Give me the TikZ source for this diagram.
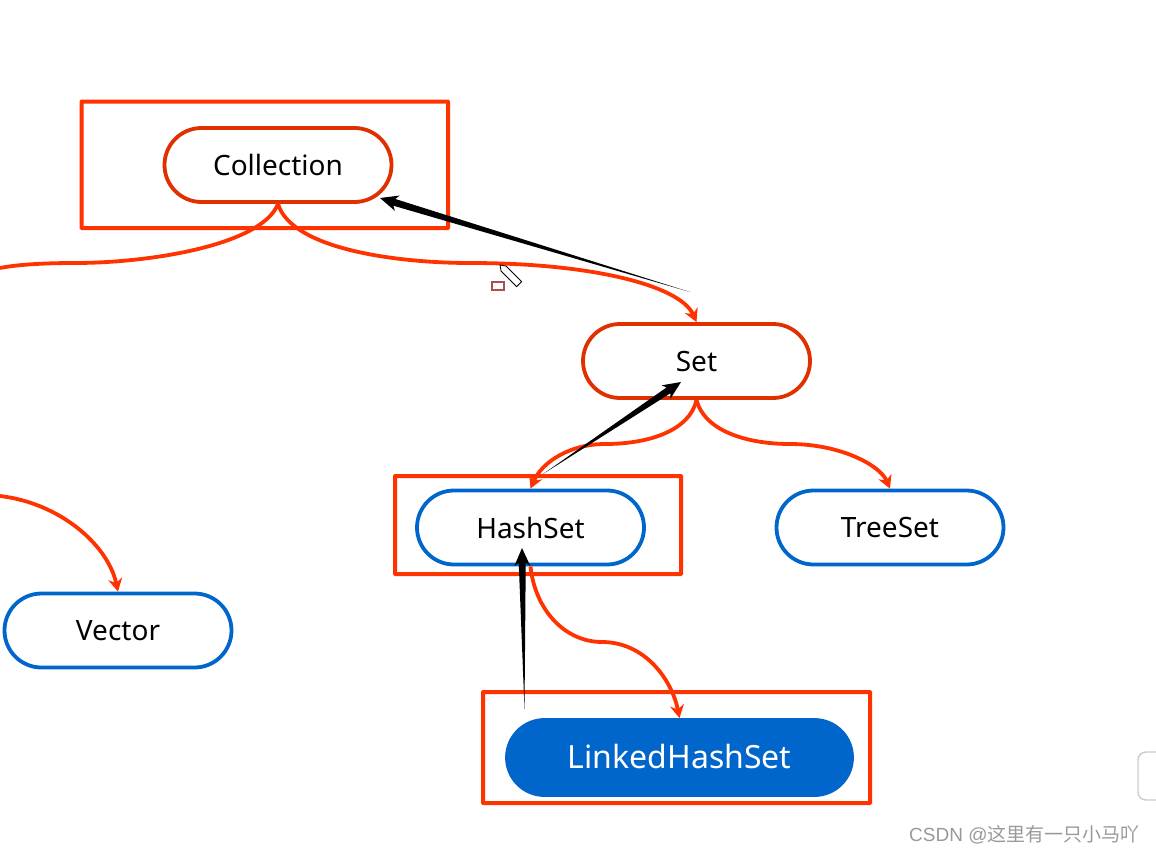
\documentclass[tikz,border=0pt]{standalone}
\usepackage{fontspec}
\setmainfont{Noto Sans}
\newfontfamily\marklatin{Liberation Sans}
\newfontfamily\markcjk{Noto Sans CJK SC}
\usetikzlibrary{calc}
\usetikzlibrary{arrows.meta}
\usetikzlibrary{shapes.misc}
\newcommand{\taperarrow}[2]{
    \coordinate (neck) at ($(#2)!15pt!(#1)$);
    \coordinate (back) at ($(#2)!18pt!(#1)$);
    \fill[black] (#1)
        -- ($(neck)!3.5pt!90:(#2)$)
        -- ($(back)!8pt!90:(#2)$)
        -- (#2)
        -- ($(back)!8pt!-90:(#2)$)
        -- ($(neck)!3.5pt!-90:(#2)$)
        -- cycle;
}
\begin{document}
\begin{tikzpicture}
        [ x=1pt
        , y=-1pt
        , pill/.style={rounded rectangle, rounded rectangle arc length=180, draw, line width=3.8pt, minimum width=227pt, minimum height=74pt, inner sep=0pt, font=\fontsize{28}{30}\selectfont}
        , redpill/.style={pill, draw=pillred}
        , bluepill/.style={pill, draw=blueline}
        , frame/.style={draw=redline, line width=4pt, rounded corners=0.5pt}
        , link/.style={draw=redline, line width=3.8pt, -{Stealth[length=13pt, width=14pt]}}
        , plainlink/.style={draw=redline, line width=3.8pt}
        ]
        \definecolor{redline}{HTML}{FF3300}
        \definecolor{pillred}{HTML}{E03000}
        \definecolor{blueline}{HTML}{0066CC}
        \definecolor{boxbrown}{HTML}{A85050}
        \useasboundingbox (0,0) rectangle (1156,854);

        \node[redpill] (collection) at (278,165) {Collection};
        \node[redpill] (set) at (696.5,361) {Set};
        \node[bluepill] (hashset) at (530.5,527.5) {HashSet};
        \node[bluepill] (treeset) at (890,527.5) {TreeSet};
        \node[bluepill] (vector) at (118,630.5) {Vector};
        \node[pill, fill=blueline, draw=blueline, text=white, minimum width=345pt, minimum height=75pt, text depth=3pt, font=\fontsize{32}{34}\selectfont] (linked) at (679.5,757.5) {LinkedHashSet};

        \draw[frame] (81.5,101.5) rectangle (448,228);
        \draw[frame] (395,476) rectangle (681,574);
        \draw[frame] (483,692) rectangle (870,803);

        % free ends at the left edge
        \coordinate (leftlow) at (0,268);
        \coordinate (lefthigh) at (0,496);

        \draw[plainlink] (collection.south) .. controls (262,245) and (150,263) .. (75,263) .. controls (40,263) and (15,265) .. (leftlow);
        \draw[link] (collection.south) .. controls (292,250) and (400,263) .. (470,263) .. controls (590,263) and (680,285) .. (set.north);
        \draw[link] (set.south) .. controls (690,430) and (650,444) .. (605,444) .. controls (570,444) and (542,462) .. (hashset.north);
        \draw[link] (set.south) .. controls (704,430) and (745,444) .. (790,444) .. controls (840,444) and (880,465) .. (treeset.north);
        \draw[link] (hashset.south) .. controls (535,610) and (565,642) .. (602,642) .. controls (645,642) and (672,680) .. (linked.north);
        \draw[link] (lefthigh) .. controls (60,503) and (108,545) .. (vector.north);

        % black arrows
        \coordinate (settail) at (690,292);
        \coordinate (hashtail) at (543,474);
        \coordinate (linkedtail) at (524.5,709);
        \coordinate (collectiontip) at (380,198);
        \coordinate (settip) at (681,382);
        \coordinate (hashtip) at (522,548);
        \taperarrow{settail}{collectiontip}
        \taperarrow{hashtail}{settip}
        \taperarrow{linkedtail}{hashtip}

        % pen cursor and its small box
        \draw[black, fill=white, line width=0.8pt, rotate around={-45:(500,265)}] (500,265) -- (505,261.5) -- (527,261.5) -- (527,268.5) -- (505,268.5) -- cycle;
        \draw[boxbrown, line width=1.4pt] (492,282) rectangle (504,290);

        % dock at the right edge
        \draw[gray!40, fill=white, line width=1.4pt, rounded corners=8pt] (1170,752) -- (1138,752) -- (1138,800) -- (1170,800);

        \node[text=gray!80, anchor=west, inner sep=0pt, font=\fontsize{19}{21}\selectfont] (mark) at (909,835) {\marklatin CSDN @\markcjk 这里有一只小马吖};
\end{tikzpicture}
\end{document}
